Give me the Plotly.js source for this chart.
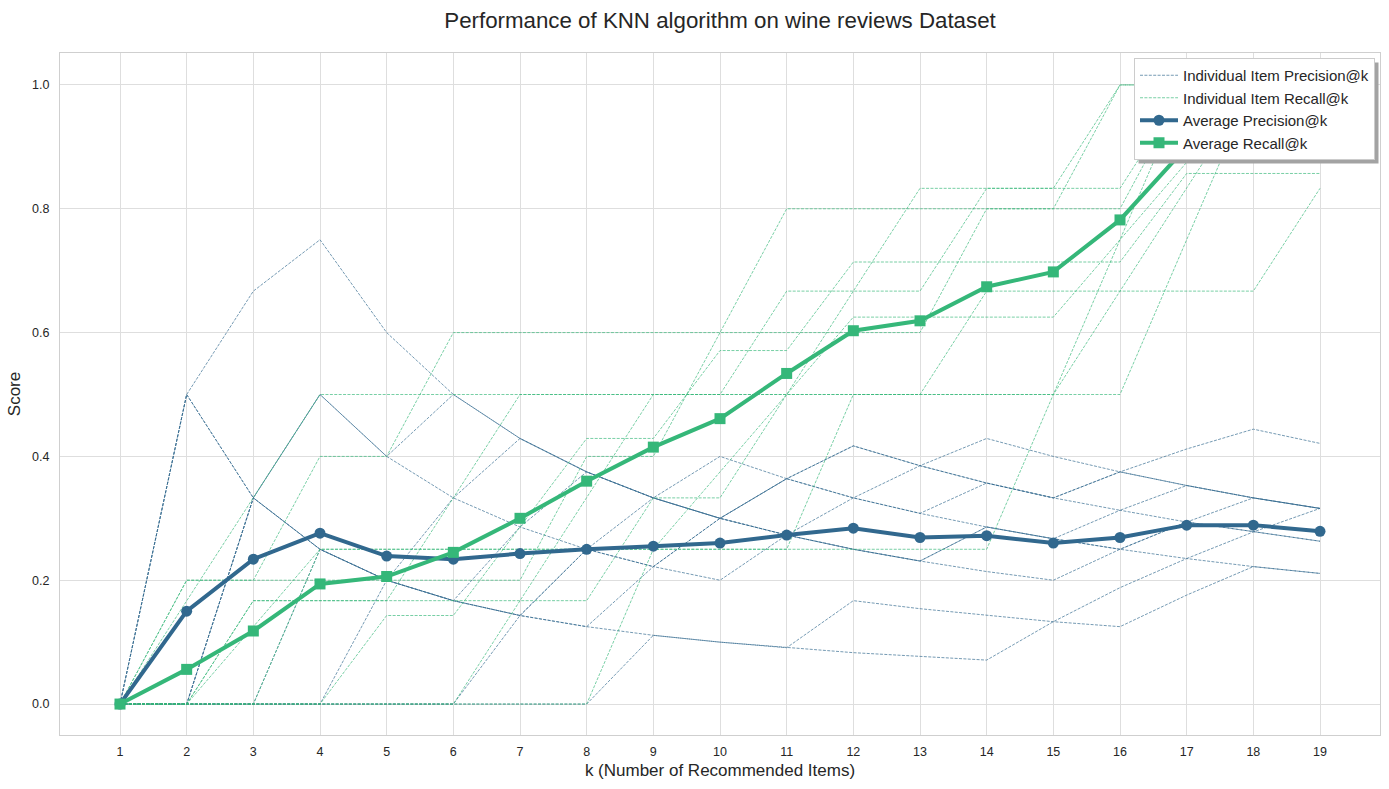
<!DOCTYPE html>
<html>
<head>
<meta charset="utf-8">
<script src="https://cdn.plot.ly/plotly-3.0.1.min.js"></script>
<style>
html,body{margin:0;padding:0;background:#ffffff;}
#chart{width:1389px;height:789px;}
</style>
</head>
<body>
<div id="chart"></div>
<script>
// k values (number of recommended items)
const kValues = [1,2,3,4,5,6,7,8,9,10,11,12,13,14,15,16,17,18,19];
const xTickLabels = ['1','2','3','4','5','6','7','8','9','10','11','12','13','14','15','16','17','18','19'];
const yTickValues = [0, 0.2, 0.4, 0.6, 0.8, 1.0];
const yTickLabels = ['0.0','0.2','0.4','0.6','0.8','1.0'];

// Individual item precision@k
const precItem1  = [0, 0.5, 0.667, 0.75, 0.6, 0.5, 0.429, 0.375, 0.333, 0.3, 0.273, 0.25, 0.231, 0.214, 0.2, 0.25, 0.294, 0.333, 0.316];
const precItem2  = [0, 0.5, 0.333, 0.5, 0.4, 0.5, 0.429, 0.375, 0.333, 0.3, 0.364, 0.333, 0.308, 0.286, 0.267, 0.25, 0.294, 0.278, 0.263];
const precItem3  = [0, 0.5, 0.333, 0.25, 0.2, 0.167, 0.143, 0.25, 0.222, 0.3, 0.273, 0.25, 0.231, 0.286, 0.267, 0.313, 0.294, 0.278, 0.263];
const precItem4  = [0, 0, 0.333, 0.25, 0.2, 0.167, 0.143, 0.125, 0.222, 0.2, 0.273, 0.25, 0.231, 0.286, 0.267, 0.25, 0.235, 0.278, 0.316];
const precItem5  = [0, 0, 0, 0.25, 0.2, 0.167, 0.143, 0.125, 0.111, 0.1, 0.091, 0.083, 0.077, 0.071, 0.133, 0.188, 0.235, 0.222, 0.211];
const precItem6  = [0, 0, 0, 0, 0.2, 0.167, 0.286, 0.375, 0.333, 0.4, 0.364, 0.417, 0.385, 0.357, 0.333, 0.313, 0.353, 0.333, 0.316];
const precItem7  = [0, 0, 0.333, 0.5, 0.4, 0.333, 0.286, 0.25, 0.222, 0.3, 0.364, 0.417, 0.385, 0.357, 0.333, 0.375, 0.412, 0.444, 0.421];
const precItem8  = [0, 0, 0.333, 0.25, 0.2, 0.333, 0.429, 0.375, 0.333, 0.3, 0.273, 0.333, 0.385, 0.429, 0.4, 0.375, 0.353, 0.333, 0.316];
const precItem9  = [0, 0, 0, 0, 0, 0, 0.143, 0.25, 0.333, 0.3, 0.364, 0.333, 0.308, 0.357, 0.333, 0.375, 0.353, 0.333, 0.316];
const precItem10 = [0, 0, 0, 0, 0, 0, 0, 0, 0.111, 0.1, 0.091, 0.167, 0.154, 0.143, 0.133, 0.125, 0.176, 0.222, 0.211];

// Individual item recall@k
const recItem1  = [0, 0.167, 0.333, 0.5, 0.5, 0.5, 0.5, 0.5, 0.5, 0.5, 0.5, 0.5, 0.5, 0.5, 0.5, 0.667, 0.833, 1, 1];
const recItem2  = [0, 0.2, 0.2, 0.4, 0.4, 0.6, 0.6, 0.6, 0.6, 0.6, 0.8, 0.8, 0.8, 0.8, 0.8, 0.8, 1, 1, 1];
const recItem3  = [0, 0.2, 0.2, 0.2, 0.2, 0.2, 0.2, 0.4, 0.4, 0.6, 0.6, 0.6, 0.6, 0.8, 0.8, 1, 1, 1, 1];
const recItem4  = [0, 0, 0.167, 0.167, 0.167, 0.167, 0.167, 0.167, 0.333, 0.333, 0.5, 0.5, 0.5, 0.667, 0.667, 0.667, 0.667, 0.667, 0.833];
const recItem5  = [0, 0, 0, 0.25, 0.25, 0.25, 0.25, 0.25, 0.25, 0.25, 0.25, 0.25, 0.25, 0.25, 0.5, 0.75, 1, 1, 1];
const recItem6  = [0, 0, 0, 0, 0.143, 0.143, 0.286, 0.429, 0.429, 0.571, 0.571, 0.714, 0.714, 0.714, 0.714, 0.714, 0.857, 0.857, 0.857];
const recItem7  = [0, 0, 0.125, 0.25, 0.25, 0.25, 0.25, 0.25, 0.25, 0.375, 0.5, 0.625, 0.625, 0.625, 0.625, 0.75, 0.875, 1, 1];
const recItem8  = [0, 0, 0.167, 0.167, 0.167, 0.333, 0.5, 0.5, 0.5, 0.5, 0.5, 0.667, 0.833, 0.833, 0.833, 0.833, 1, 1, 1];
const recItem9  = [0, 0, 0, 0, 0, 0, 0.167, 0.333, 0.5, 0.5, 0.667, 0.667, 0.667, 0.833, 0.833, 1, 1, 1, 1];
const recItem10 = [0, 0, 0, 0, 0, 0, 0, 0, 0.25, 0.25, 0.25, 0.5, 0.5, 0.5, 0.5, 0.5, 0.75, 1, 1];

// Averages
const avgPrecision = [0, 0.15, 0.234, 0.276, 0.239, 0.234, 0.243, 0.25, 0.255, 0.26, 0.273, 0.284, 0.269, 0.272, 0.26, 0.269, 0.289, 0.289, 0.279];
const avgRecall    = [0, 0.056, 0.118, 0.194, 0.206, 0.245, 0.3, 0.36, 0.415, 0.461, 0.534, 0.603, 0.619, 0.674, 0.698, 0.782, 0.9, 0.969, 0.986];

const precisionItems = [precItem1, precItem2, precItem3, precItem4, precItem5, precItem6, precItem7, precItem8, precItem9, precItem10];
const recallItems = [recItem1, recItem2, recItem3, recItem4, recItem5, recItem6, recItem7, recItem8, recItem9, recItem10];

const PREC_COLOR = '#31688e';
const REC_COLOR = '#35b779';
const FONT = 'Liberation Sans, Arial, Helvetica, sans-serif';

const traces = [];
precisionItems.forEach(function (vals, i) {
  traces.push({
    x: kValues, y: vals, type: 'scatter', mode: 'lines',
    line: {color: PREC_COLOR, width: 0.9, dash: '3px,1.4px'},
    opacity: 0.75,
    name: 'Individual Item Precision@k', legendgroup: 'ip', showlegend: i === 0,
    hoverinfo: 'skip'
  });
});
recallItems.forEach(function (vals, i) {
  traces.push({
    x: kValues, y: vals, type: 'scatter', mode: 'lines',
    line: {color: REC_COLOR, width: 0.9, dash: '3px,1.4px'},
    opacity: 0.75,
    name: 'Individual Item Recall@k', legendgroup: 'ir', showlegend: i === 0,
    hoverinfo: 'skip'
  });
});
traces.push({
  x: kValues, y: avgPrecision, type: 'scatter', mode: 'lines+markers',
  line: {color: PREC_COLOR, width: 4},
  marker: {color: PREC_COLOR, size: 11, symbol: 'circle'},
  name: 'Average Precision@k'
});
traces.push({
  x: kValues, y: avgRecall, type: 'scatter', mode: 'lines+markers',
  line: {color: REC_COLOR, width: 4},
  marker: {color: REC_COLOR, size: 11, symbol: 'square'},
  name: 'Average Recall@k'
});

const L = 60, R = 1380, T = 53, B = 735;
function px(x) { return (x - L) / (R - L); }
function py(y) { return (B - y) / (B - T); }

const layout = {
  width: 1389, height: 789,
  margin: {l: L, r: 1389 - R, t: T, b: 789 - B},
  paper_bgcolor: '#ffffff', plot_bgcolor: '#ffffff',
  font: {family: FONT, color: '#262626'},
  showlegend: true,
  title: {
    text: 'Performance of KNN algorithm on wine reviews Dataset',
    x: 0.5, xref: 'paper', xanchor: 'center',
    y: 1 - 20 / 789, yanchor: 'middle',
    font: {family: FONT, size: 22.3, color: '#262626'}
  },
  xaxis: {
    range: [0.1, 19.9], tickmode: 'array', tickvals: kValues, ticktext: xTickLabels,
    showgrid: true, gridcolor: '#dedede', gridwidth: 1, zeroline: false,
    showline: true, linecolor: '#cfcfcf', linewidth: 1, mirror: true,
    ticks: 'outside', ticklen: 5, tickcolor: 'rgba(0,0,0,0)',
    tickfont: {family: FONT, size: 12.5, color: '#262626'},
    title: {text: 'k (Number of Recommended Items)', font: {family: FONT, size: 17, color: '#262626'}, standoff: 6}
  },
  yaxis: {
    range: [-0.05, 1.0516], tickmode: 'array', tickvals: yTickValues, ticktext: yTickLabels,
    showgrid: true, gridcolor: '#dedede', gridwidth: 1, zeroline: false,
    showline: true, linecolor: '#cfcfcf', linewidth: 1, mirror: true,
    ticks: 'outside', ticklen: 7, tickcolor: 'rgba(0,0,0,0)',
    tickfont: {family: FONT, size: 12.5, color: '#262626'},
    title: {text: 'Score', font: {family: FONT, size: 17, color: '#262626'}, standoff: 7}
  },
  legend: {
    x: px(1375), xanchor: 'right', y: py(58), yanchor: 'top',
    bgcolor: '#ffffff', bordercolor: '#cccccc', borderwidth: 1,
    font: {family: FONT, size: 15, color: '#262626'},
    traceorder: 'normal', itemwidth: 38
  }
};

Plotly.newPlot('chart', traces, layout, {staticPlot: true, displayModeBar: false}).then(function (gd) {
  // legend drop shadow, placed from the legend's rendered box
  const bg = gd.querySelector('.legend .bg');
  const host = gd.getBoundingClientRect();
  if (bg) {
    const r = bg.getBoundingClientRect();
    const x0 = r.left - host.left + 4, x1 = r.right - host.left + 4;
    const y0 = r.top - host.top + 4, y1 = r.bottom - host.top + 4;
    Plotly.relayout(gd, {shapes: [{
      type: 'rect', xref: 'paper', yref: 'paper', layer: 'above',
      x0: px(x0), x1: px(x1), y0: py(y1), y1: py(y0),
      fillcolor: '#a3a3a3', line: {width: 0}
    }]});
  }
});
</script>
</body>
</html>
